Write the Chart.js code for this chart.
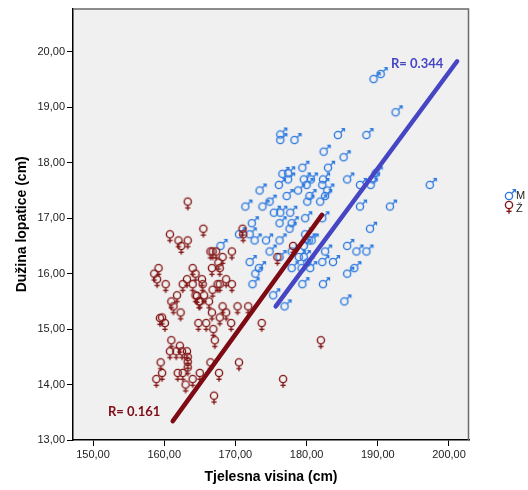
<!DOCTYPE html>
<html>
<head>
<meta charset="utf-8">
<script src="https://cdn.jsdelivr.net/npm/chart.js@4/dist/chart.umd.min.js"></script>
<style>
html,body{margin:0;padding:0;background:#fff;}
#wrap{width:528px;height:490px;position:relative;}
</style>
</head>
<body>
<div id="wrap"><canvas id="c" width="528" height="490"></canvas></div>
<script>
// Male (M): height (cm), scapula length (cm)
const maleX = [189.4,190.4,192.5,176.3,176.3,178.3,184.4,188.4,182.4,185.2,179.4,183.0,176.6,177.4,177.4,179.6,182.3,185.7,187.5,189.0,189.7,197.3,176.1,180.0,182.2,178.8,182.9,173.4,177.2,180.4,182.6,174.8,180.1,181.9,171.4,173.8,187.5,191.7,175.4,176.3,177.7,182.2,179.8,172.3,176.2,177.9,177.6,188.9,170.5,172.0,179.8,172.7,174.3,176.2,180.3,167.9,179.6,185.7,174.8,177.9,182.6,187.0,188.4,179.6,176.2,172.0,173.3,177.9,179.3,180.5,182.2,183.7,186.7,172.8,185.7,172.4,179.4,182.3,175.3,185.3,176.9,180.6,180.1,180.7,189.3,178.9];
const maleY = [19.51,19.60,18.91,18.51,18.41,18.41,18.50,18.50,18.20,18.10,17.91,17.91,17.80,17.81,17.70,17.70,17.70,17.70,17.60,17.60,17.81,17.60,17.60,17.60,17.60,17.50,17.50,17.50,17.40,17.40,17.40,17.30,17.30,17.30,17.21,17.21,17.21,17.21,17.10,17.10,17.10,17.00,17.00,16.91,16.91,16.91,16.81,16.81,16.71,16.71,16.71,16.60,16.60,16.60,16.60,16.50,16.50,16.50,16.40,16.40,16.40,16.40,16.40,16.30,16.30,16.21,16.10,16.10,16.10,16.10,16.21,16.21,16.10,16.00,16.00,15.81,15.81,15.81,15.61,15.50,15.41,17.70,16.20,16.60,17.70,16.30];
// Female (Ž)
const femaleX = [163.3,160.8,162.0,163.3,162.4,165.5,171.0,171.1,166.5,166.8,169.5,168.2,167.6,167.8,166.7,164.0,159.2,158.6,159.0,160.2,163.2,164.4,165.3,165.4,164.0,162.6,167.5,168.7,169.5,166.8,167.8,161.8,164.4,165.6,161.0,161.3,165.0,166.3,168.2,170.3,171.8,162.3,166.7,168.7,159.7,160.1,164.8,165.9,167.8,169.4,173.7,166.9,167.1,182.0,161.0,160.8,161.7,162.5,163.2,162.2,163.3,163.3,163.3,159.5,166.5,170.5,159.7,161.9,162.6,165.0,167.7,158.9,164.0,176.7,163.0,167.0,175.9,178.1,159.4,164.6,167.3,164.9];
const femaleY = [17.30,16.71,16.60,16.60,16.50,16.81,16.81,16.71,16.40,16.40,16.40,16.30,16.20,16.10,16.10,16.10,16.10,16.00,15.90,15.81,15.90,16.00,15.90,15.81,15.81,15.81,15.81,15.90,15.81,15.71,15.81,15.61,15.61,15.61,15.50,15.41,15.50,15.50,15.41,15.41,15.41,15.30,15.30,15.30,15.21,15.11,15.11,15.11,15.21,15.11,15.11,15.00,14.80,14.80,14.80,14.60,14.60,14.60,14.60,14.70,14.50,14.41,14.31,14.40,14.40,14.40,14.21,14.21,14.21,14.21,14.21,14.10,14.10,14.10,14.00,13.80,16.30,16.50,15.20,15.60,16.40,15.50];
// Fit lines (endpoints)
const maleFitX = [175.66, 201.14];
const maleFitY = [15.41, 19.83];
const femaleFitX = [161.2, 182.16];
const femaleFitY = [13.34, 17.06];
const maleR = "R= 0.344";
const femaleR = "R= 0.161";
const legendLabels = ["M", "Ž"];
const xTicks = [150,160,170,180,190,200];
const yTicks = [13,14,15,16,17,18,19,20];

const MALE_C = '#2a78e0';
const FEMALE_C = '#821414';
const MLINE_C = '#4646c4';
const FLINE_C = '#7e0a14';

function makeMale(color){
  const c = document.createElement('canvas'); c.width=22; c.height=22;
  const g = c.getContext('2d');
  const cx=11, cy=11, r=3.6;
  g.strokeStyle=color; g.fillStyle=color; g.lineWidth=1.35;
  g.beginPath(); g.arc(cx,cy,r,0,Math.PI*2); g.stroke();
  const a=r*0.707;
  g.beginPath(); g.moveTo(cx+a,cy-a); g.lineTo(cx+6,cy-6); g.stroke();
  g.beginPath(); g.moveTo(cx+7.1,cy-7.1); g.lineTo(cx+3,cy-7.1); g.lineTo(cx+7.1,cy-3); g.closePath(); g.fill();
  return c;
}
function makeFemale(color){
  const c = document.createElement('canvas'); c.width=22; c.height=26;
  const g = c.getContext('2d');
  const cx=11, cy=13, r=3.6;
  g.strokeStyle=color; g.lineWidth=1.35;
  g.beginPath(); g.arc(cx,cy,r,0,Math.PI*2); g.stroke();
  g.beginPath(); g.moveTo(cx,cy+r); g.lineTo(cx,cy+r+5.2); g.stroke();
  g.beginPath(); g.moveTo(cx-2.6,cy+r+2.7); g.lineTo(cx+2.6,cy+r+2.7); g.stroke();
  return c;
}
const maleImg = makeMale(MALE_C);
const femaleImg = makeFemale(FEMALE_C);

const pts = (xs, ys) => xs.map((x,i)=>({x:x, y:ys[i]}));
const fmt = v => Number(v).toFixed(2).replace('.', ',');

const bgPlugin = {
  id:'bg',
  beforeDraw(chart){
    const {ctx, chartArea:a} = chart;
    ctx.save(); ctx.fillStyle='#f0f0f0';
    ctx.fillRect(a.left,a.top,a.right-a.left,a.bottom-a.top);
    ctx.restore();
  },
  afterDraw(chart){
    const {ctx, chartArea:a} = chart;
    ctx.save();
    ctx.strokeStyle='#6a6a6a'; ctx.lineWidth=1.5;
    ctx.beginPath(); ctx.moveTo(a.left,a.top+0.5); ctx.lineTo(a.right-0.5,a.top+0.5); ctx.lineTo(a.right-0.5,a.bottom); ctx.stroke();
    // R labels
    ctx.font = 'bold 13px Lato';
    ctx.textBaseline='middle'; ctx.textAlign='left';
    ctx.fillStyle = MLINE_C; ctx.fillText(maleR, 391, 64);
    ctx.fillStyle = FLINE_C; ctx.fillText(femaleR, 108, 412);
    // legend
    ctx.drawImage(maleImg, 509-11, 196-11);
    ctx.drawImage(femaleImg, 509-11, 205-13);
    ctx.font = '11px "Liberation Sans"';
    ctx.fillStyle='#222';
    ctx.fillText(legendLabels[0], 516, 196);
    ctx.fillText(legendLabels[1], 516, 209);
    ctx.restore();
  }
};

new Chart(document.getElementById('c'), {
  type:'scatter',
  data:{
    datasets:[
      {label:'Ž fit', type:'line', data: pts(femaleFitX, femaleFitY), borderColor:FLINE_C, borderWidth:4.5, borderCapStyle:'round', pointRadius:0, order:0},
      {label:'M fit', type:'line', data: pts(maleFitX, maleFitY), borderColor:MLINE_C, borderWidth:4.5, borderCapStyle:'round', pointRadius:0, order:0},
      {label:'M', data: pts(maleX, maleY), pointStyle: maleImg, pointRadius:3, order:2},
      {label:'Ž', data: pts(femaleX, femaleY), pointStyle: femaleImg, pointRadius:3, order:1}
    ]
  },
  options:{
    responsive:false, animation:false, devicePixelRatio:1,
    layout:{padding:{left:0,right:59,top:4,bottom:0}},
    plugins:{legend:{display:false}, tooltip:{enabled:false}},
    scales:{
      x:{
        type:'linear', min:147.19, max:202.81,
        afterBuildTicks(s){ s.ticks = xTicks.map(v=>({value:v})); },
        afterFit(s){ s.height = 50; },
        ticks:{callback:fmt, color:'#222', font:{family:'Liberation Sans', size:11}, padding:2, maxRotation:0, autoSkip:false},
        grid:{drawOnChartArea:false, drawTicks:true, tickLength:6, color:'#000', tickColor:'#000'},
        border:{display:true, color:'#000', width:1.5},
        title:{display:true, text:'Tjelesna visina (cm)', color:'#000', font:{family:'Liberation Sans', size:14, weight:'bold'}, padding:{top:0,bottom:4}}
      },
      y:{
        type:'linear', min:13, max:20.78,
        afterBuildTicks(s){ s.ticks = yTicks.map(v=>({value:v})); },
        afterFit(s){ s.width = 73; },
        ticks:{callback:fmt, color:'#222', font:{family:'Liberation Sans', size:11}, padding:2, autoSkip:false},
        grid:{drawOnChartArea:false, drawTicks:true, tickLength:6, color:'#000', tickColor:'#000'},
        border:{display:true, color:'#000', width:1.5},
        title:{display:true, text:'Dužina lopatice (cm)', color:'#000', font:{family:'Liberation Sans', size:14, weight:'bold'}, padding:{top:14,bottom:0}}
      }
    }
  },
  plugins:[bgPlugin]
});
</script>
</body>
</html>
